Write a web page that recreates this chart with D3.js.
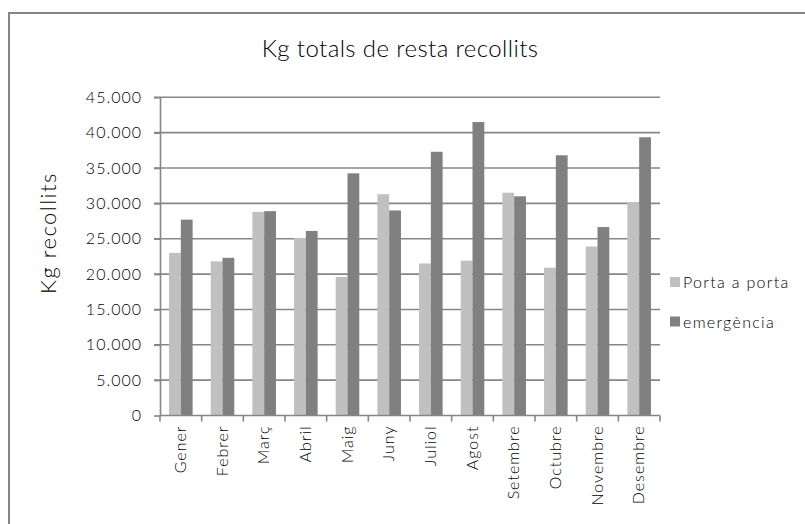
<!DOCTYPE html>
<meta charset="utf-8">
<style>
body { margin: 0; background: #fff; font-family: Lato, "Open Sans", sans-serif; font-weight: 300; }
.grid line { stroke: #868686; stroke-width: 1.6; }
.axis path, .axis line { stroke: #868686; stroke-width: 1.6; fill: none; }
.axis text { fill: #000; font-size: 16px; letter-spacing: 1px; font-family: Lato, sans-serif; font-weight: 300; }
</style>
<body>
<script src="https://d3js.org/d3.v7.min.js"></script>
<script>

// months (x categories)
var mesos = ["Gener","Febrer","Març","Abril","Maig","Juny","Juliol","Agost","Setembre","Octubre","Novembre","Desembre"];

// series
var portaAPorta = [23000, 21800, 28800, 25100, 19600, 31300, 21500, 21900, 31500, 20900, 23900, 30100];
var emergencia  = [27700, 22300, 28900, 26100, 34250, 29000, 37300, 41500, 31000, 36800, 26650, 39350];

var seriesNames = ["Porta a porta", "emergència"];
var seriesColors = ["#c0c0c0", "#808080"];

// y ticks
var yTicks = [0, 5000, 10000, 15000, 20000, 25000, 30000, 35000, 40000, 45000];

var width = 805, height = 524;
var margin = {top: 97.3, left: 160, right: 145, bottom: 108.5};

var svg = d3.select("body").append("svg")
    .attr("width", width)
    .attr("height", height);

// outer frame (cut off at right and bottom like the original)
svg.append("rect")
    .attr("x", 9).attr("y", 13)
    .attr("width", 820).attr("height", 540)
    .attr("fill", "none")
    .attr("stroke", "#868686")
    .attr("stroke-width", 2);

var x = d3.scaleBand()
    .domain(mesos)
    .range([margin.left, width - margin.right])
    .paddingInner(0.434)
    .paddingOuter(0.217);

var y = d3.scaleLinear()
    .domain([0, 45000])
    .range([height - margin.bottom, margin.top]);

var fmt = function(d) { return d3.format(",")(d).replace(/,/g, "."); };

// gridlines
svg.append("g")
    .attr("class", "grid")
    .selectAll("line")
    .data(yTicks.slice(1))
    .enter().append("line")
    .attr("x1", margin.left - 6)
    .attr("x2", width - margin.right)
    .attr("y1", function(d) { return y(d); })
    .attr("y2", function(d) { return y(d); });

// bars
var x1 = d3.scaleBand().domain(seriesNames).range([0, x.bandwidth()]);
var rows = mesos.map(function(m, i) { return {mes: m, vals: [portaAPorta[i], emergencia[i]]}; });

svg.append("g").selectAll("g")
    .data(rows)
    .enter().append("g")
    .attr("transform", function(d) { return "translate(" + x(d.mes) + ",0)"; })
    .selectAll("rect")
    .data(function(d) { return d.vals.map(function(v, k) { return {k: k, v: v}; }); })
    .enter().append("rect")
    .attr("x", function(d) { return x1(seriesNames[d.k]); })
    .attr("width", x1.bandwidth())
    .attr("y", function(d) { return y(d.v); })
    .attr("height", function(d) { return y(0) - y(d.v); })
    .attr("fill", function(d) { return seriesColors[d.k]; });

// y axis
svg.append("g")
    .attr("class", "axis")
    .attr("transform", "translate(" + margin.left + ",0)")
    .call(d3.axisLeft(y).tickValues(yTicks).tickFormat(fmt).tickSize(6).tickSizeOuter(0).tickPadding(12));

// x axis
var xAxisScale = d3.scalePoint().domain(d3.range(13)).range([margin.left, width - margin.right]);
var xg = svg.append("g")
    .attr("class", "axis")
    .attr("transform", "translate(0," + y(0) + ")");
xg.append("line")
    .attr("x1", margin.left).attr("x2", width - margin.right)
    .attr("stroke", "#868686").attr("stroke-width", 1.6);
xg.selectAll(".tk")
    .data(d3.range(13))
    .enter().append("line")
    .attr("class", "tk")
    .attr("x1", function(d) { return xAxisScale(d); })
    .attr("x2", function(d) { return xAxisScale(d); })
    .attr("y1", 0).attr("y2", 6)
    .attr("stroke", "#868686").attr("stroke-width", 1.6);
xg.selectAll("text")
    .data(mesos)
    .enter().append("text")
    .attr("transform", function(d) { return "translate(" + (x(d) + x.bandwidth() / 2 + 5) + ",10) rotate(-90)"; })
    .attr("text-anchor", "end")
    .text(function(d) { return d; });

// title
svg.append("text")
    .attr("x", 400).attr("y", 57)
    .attr("text-anchor", "middle")
    .style("font-size", "24px")
    .style("letter-spacing", "0.4px")
    .text("Kg totals de resta recollits");

// y axis title
svg.append("text")
    .attr("transform", "translate(56,233) rotate(-90)")
    .attr("text-anchor", "middle")
    .style("font-size", "22px")
    .style("letter-spacing", "1.5px")
    .text("Kg recollits");

// legend
var leg = svg.append("g").selectAll("g")
    .data(seriesNames)
    .enter().append("g")
    .attr("transform", function(d, i) { return "translate(670," + (277 + i * 39.5) + ")"; });
leg.append("rect")
    .attr("width", 10).attr("height", 10)
    .attr("fill", function(d, i) { return seriesColors[i]; });
leg.append("text")
    .attr("x", 13).attr("y", 11)
    .style("font-size", "16px")
    .style("letter-spacing", "1.3px")
    .text(function(d) { return d; });

</script>
</body>
